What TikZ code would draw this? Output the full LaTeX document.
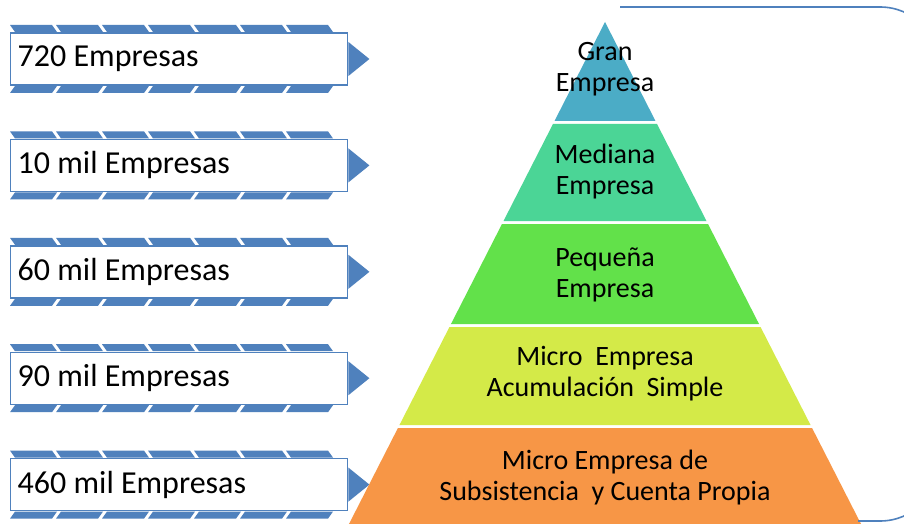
\documentclass[tikz,border=0pt]{standalone}
\usepackage{fontspec}
\setmainfont{Carlito}
\usetikzlibrary{positioning}
\definecolor{azul}{HTML}{4F81BD}
\definecolor{gran}{HTML}{4BACC6}
\definecolor{mediana}{HTML}{4BD596}
\definecolor{pequena}{HTML}{62E14A}
\definecolor{micro}{HTML}{D4EA48}
\definecolor{subs}{HTML}{F79646}
\tikzset{
  cuenta/.style={draw=azul, line width=0.7pt, fill=white, anchor=west,
    minimum height=26pt, inner xsep=3.5pt,
    font=\fontsize{16}{18}\selectfont},
  nivel/.style={align=center, font=\fontsize{14}{15.5}\selectfont}
}
\begin{document}
\begin{tikzpicture}[x=0.5pt,y=-0.5pt]
  \clip (0,0) rectangle (904,524);
  \fill[white] (0,0) rectangle (904,524);

  \foreach \t [count=\i] in {720 Empresas, 10 mil Empresas, 60 mil Empresas, 90 mil Empresas, 460 mil Empresas}{
    \pgfmathsetmacro\yc{59+106.4*(\i-1)}
    \foreach \k in {0,...,6}{
      \fill[azul] ({10+46*\k},\yc-34) -- ++(42,0) -- ++(5,7) -- ++(-42,0) -- cycle;
      \fill[azul] ({10+46*\k},\yc+34) -- ++(42,0) -- ++(5,-7) -- ++(-42,0) -- cycle;
    }
    \node[cuenta] (caja\i) at (10,\yc) {\makebox[161.5pt][l]{\t}};
    \fill[azul] ([yshift=8.5pt]caja\i.east) -- ([xshift=10.5pt]caja\i.east) -- ([yshift=-8.5pt]caja\i.east) -- cycle;
  }

  \foreach \a/\b/\c in {22/121/gran, 124/221/mediana, 224/324/pequena, 327/425/micro, 428/524/subs}{
    \fill[\c] ({605-0.51*(\a-22)},\a) -- ({605+0.51*(\a-22)},\a) -- ({605+0.51*(\b-22)},\b) -- ({605-0.51*(\b-22)},\b) -- cycle;
  }
  \node[nivel] (ngran) at (605,69) {Gran\\Empresa};
  \node[nivel] (nmediana) at (605,172) {Mediana\\Empresa};
  \node[nivel] (npequena) at (605,275) {Pequeña\\Empresa};
  \node[nivel] (nmicro) at (605,374) {Micro\ \ Empresa\\Acumulación\ \ Simple};
  \node[nivel] (nsubs) at (605,478) {Micro Empresa de\\Subsistencia\ \ y Cuenta\ Propia};

  \draw[azul, line width=0.8pt, rounded corners=30pt] (620,7) -- (940,7) -- (940,521) -- (858,521);
\end{tikzpicture}
\end{document}
